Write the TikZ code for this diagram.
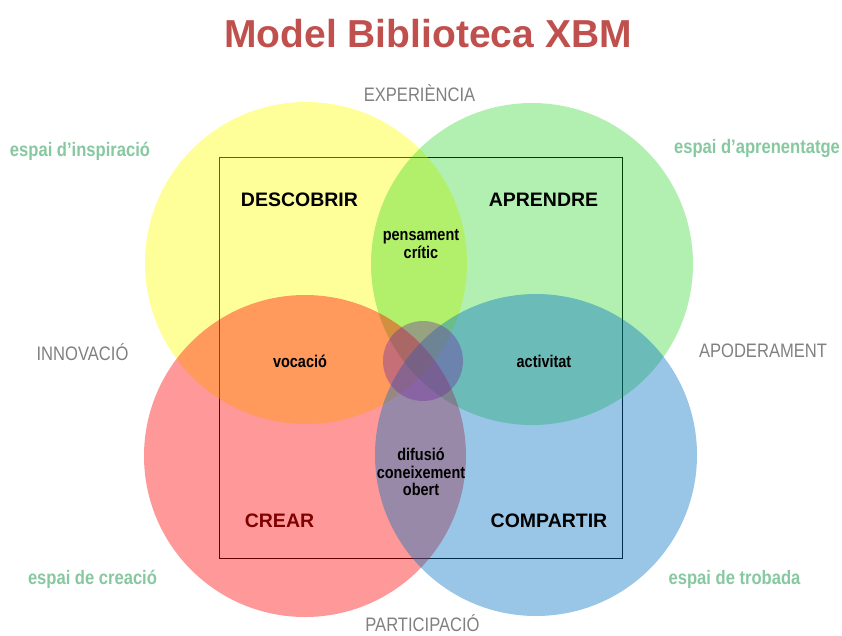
\documentclass[tikz,border=0pt]{standalone}
\usepackage{fontspec}
\setmainfont{Liberation Sans}
\newfontfamily\narrowsf[FakeStretch=0.85]{Liberation Sans}
\definecolor{titlered}{RGB}{192,80,77}
\definecolor{spacegreen}{RGB}{135,200,160}
\definecolor{axisgray}{RGB}{128,128,128}
\definecolor{crearred}{RGB}{128,0,0}
\definecolor{yellowc}{RGB}{255,255,0}
\definecolor{greenc}{RGB}{0,204,0}
\definecolor{redc}{RGB}{255,0,0}
\definecolor{bluec}{RGB}{0,112,192}
\definecolor{purplec}{RGB}{112,48,160}

\begin{document}
\begin{tikzpicture}[x=1pt, y=-1pt,
    ring/.style = {circle, inner sep=0pt, minimum size=322pt, fill opacity=0.4},
    axistxt/.style = {inner sep=0pt, anchor=base, text=axisgray, font=\narrowsf\fontsize{19.5}{22}\selectfont},
    spacetxt/.style = {inner sep=0pt, anchor=base, text=spacegreen, font=\narrowsf\bfseries\fontsize{19.5}{22}\selectfont},
    verbtxt/.style = {inner sep=0pt, anchor=base, font=\bfseries\fontsize{19.5}{24}\selectfont},
    valuetxt/.style = {inner sep=0pt, align=center, font=\narrowsf\bfseries\fontsize{17}{17.5}\selectfont}]
    \useasboundingbox (0,0) rectangle (842,635);
    \node[inner sep=0pt, anchor=base, text=titlered, font=\bfseries\fontsize{39}{47}\selectfont] (title) at (428,47) {Model Biblioteca XBM};
    % frame below the circles
    \node[draw, line width=0.8pt, inner sep=0pt, minimum width=403pt, minimum height=401pt] (frame) at (420.5,357.5) {};
    % the four spaces
    \node[ring, fill=yellowc] (inspiracio) at (306,263) {};
    \node[ring, fill=greenc, fill opacity=0.3] (aprenentatge) at (532,264) {};
    \node[ring, fill=redc] (creacio) at (305,456) {};
    \node[ring, fill=bluec] (trobada) at (536,455) {};
    \node[ring, fill=purplec, minimum size=80pt] (centre) at (423,361) {};
    % axes
    \node[axistxt] (experiencia) at (419.5,101) {EXPERIÈNCIA};
    \node[axistxt] (innovacio) at (82.5,360) {INNOVACIÓ};
    \node[axistxt] (apoderament) at (763,357) {APODERAMENT};
    \node[axistxt] (participacio) at (422.5,631) {PARTICIPACIÓ};
    % spaces
    \node[spacetxt] (sinspiracio) at (80,156) {espai d’inspiració};
    \node[spacetxt] (saprenentatge) at (757,153) {espai d’aprenentatge};
    \node[spacetxt] (screacio) at (92.5,584) {espai de creació};
    \node[spacetxt] (strobada) at (734.5,584) {espai de trobada};
    % verbs
    \node[verbtxt] (descobrir) at (299.5,206) {DESCOBRIR};
    \node[verbtxt] (aprendre) at (543.5,206) {APRENDRE};
    \node[verbtxt, text=crearred] (crear) at (279.5,527) {CREAR};
    \node[verbtxt] (compartir) at (549,527) {COMPARTIR};
    % overlaps
    \node[valuetxt] (critic) at (421,244) {pensament\\crític};
    \node[valuetxt] (vocacio) at (300,361) {vocació};
    \node[valuetxt] (activitat) at (544,361) {activitat};
    \node[valuetxt] (difusio) at (421,472) {difusió\\coneixement\\obert};
\end{tikzpicture}
\end{document}
